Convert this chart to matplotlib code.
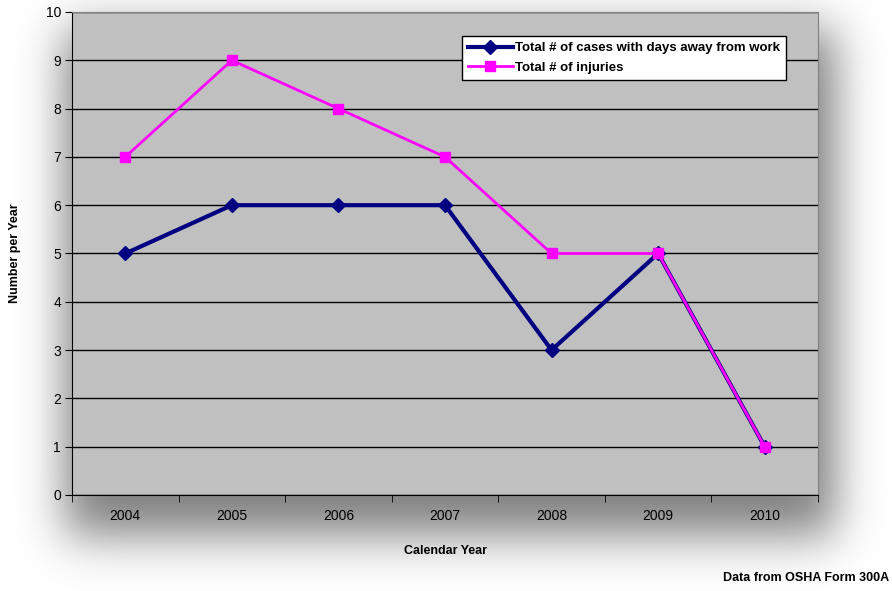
import numpy as np
import matplotlib
matplotlib.use("Agg")
import matplotlib.pyplot as plt

# --------------------------------------------------
# Data
# --------------------------------------------------
years = ["2004", "2005", "2006", "2007", "2008", "2009", "2010"]
cases_away = [5, 6, 6, 6, 3, 5, 1]
injuries = [7, 9, 8, 7, 5, 5, 1]

plt.rcParams["font.family"] = ["Liberation Sans", "DejaVu Sans"]

W, H = 892, 591
fig = plt.figure(figsize=(W / 100, H / 100), dpi=100)

# --------------------------------------------------
# Soft shadow behind the plot area
# --------------------------------------------------
def blur1d(a, sigma, axis):
    r = int(3 * sigma)
    k = np.exp(-0.5 * (np.arange(-r, r + 1) / sigma) ** 2)
    k /= k.sum()
    return np.apply_along_axis(lambda v: np.convolve(v, k, mode="same"), axis, a)

mask = np.zeros((H, W))
mask[30:535, 65:835] = 1.0
shadow = blur1d(blur1d(mask, 24, 0), 22, 1)
img = 1 - 0.5 * shadow
bg = fig.add_axes([0, 0, 1, 1], zorder=0)
bg.imshow(np.dstack([img, img, img]), extent=(0, W, H, 0), aspect="auto")
bg.axis("off")

# --------------------------------------------------
# Plot
# --------------------------------------------------
ax = fig.add_axes([72 / W, 1 - 495 / H, 746 / W, 483 / H], zorder=1)
ax.set_facecolor("#C0C0C0")
x = np.arange(len(years))

ax.plot(x, cases_away, color="#000080", lw=3, marker="D", ms=7,
        label="Total # of cases with days away from work", zorder=3)
ax.plot(x, injuries, color="#FF00FF", lw=2, marker="s", ms=7,
        label="Total # of injuries", zorder=4)

ax.set_xlim(-0.5, len(years) - 0.5)
ax.set_ylim(0, 10)
ax.set_yticks(range(0, 11))
ax.grid(axis="y", color="black", lw=1)
ax.set_axisbelow(True)

ax.set_xticks(x)
ax.set_xticklabels(years, fontsize=10)
ax.tick_params(axis="x", length=0, pad=10)
ax.set_xticks(np.arange(-0.5, len(years)), minor=True)
ax.tick_params(axis="x", which="minor", length=5, direction="out", color="black")
ax.tick_params(axis="y", length=5, direction="out", labelsize=10, pad=3)

for side in ["top", "right"]:
    ax.spines[side].set_color("#808080")
for side in ["left", "bottom"]:
    ax.spines[side].set_color("black")

ax.set_xlabel("Calendar Year", fontsize=9, fontweight="bold")
ax.xaxis.set_label_coords(0.5, (495 - 551) / 483, transform=ax.transAxes)
ax.xaxis.label.set_va("center")
ax.set_ylabel("Number per Year", fontsize=9, fontweight="bold")
ax.yaxis.set_label_coords((15 - 72) / 746, 0.5, transform=ax.transAxes)
ax.yaxis.label.set_va("center")

leg = ax.legend(loc="upper left", bbox_to_anchor=((462 - 72) / 746, (495 - 36) / 483),
                prop={"weight": "bold", "size": 9.5}, frameon=True, fancybox=False,
                edgecolor="black", framealpha=1, borderpad=0.45, borderaxespad=0,
                handlelength=3.4, handletextpad=0.15, labelspacing=0.55)
leg.get_frame().set_linewidth(1)

fig.text(889 / W, 1 - 578 / H, "Data from OSHA Form 300A", ha="right", va="center",
         fontsize=9, fontweight="bold")

fig.savefig("out.png", dpi=100)
